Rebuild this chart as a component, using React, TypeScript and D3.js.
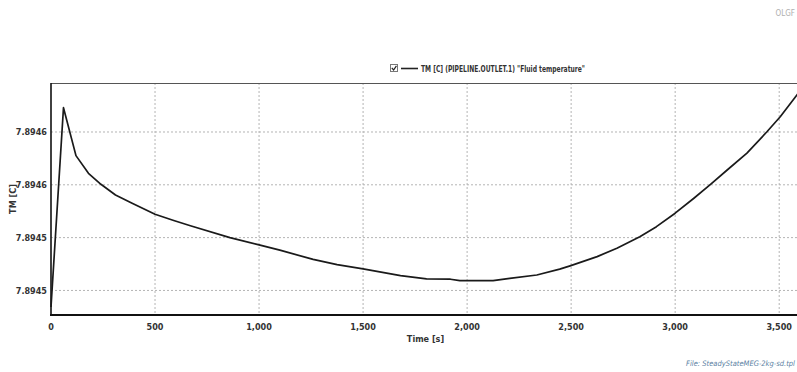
import * as d3 from "d3";

// time [s]
const times = [
  0, 60, 120, 180, 240, 310, 390, 500, 590, 670, 860, 1000, 1100, 1260, 1375,
  1500, 1680, 1805, 1920, 1965, 2125, 2205, 2335, 2445, 2495, 2625, 2720, 2830,
  2910, 3000, 3090, 3170, 3250, 3345, 3440, 3505, 3590,
];

// TM [C] fluid temperature at pipeline outlet
const temps = [
  7.8944675, 7.8946184, 7.8945821, 7.8945687, 7.8945604, 7.8945523, 7.894546,
  7.8945377, 7.894533, 7.894529, 7.89452, 7.8945145, 7.8945105, 7.8945035,
  7.8944995, 7.8944963, 7.8944912, 7.8944887, 7.8944885, 7.8944874, 7.8944874,
  7.8944892, 7.8944917, 7.8944961, 7.8944986, 7.8945056, 7.894512, 7.8945207,
  7.8945283, 7.8945385, 7.8945498, 7.8945603, 7.8945712, 7.894584, 7.8946,
  7.8946115, 7.894629,
];

const xTicks = [0, 500, 1000, 1500, 2000, 2500, 3000, 3500];
const yTicks = [7.89448, 7.89452, 7.89456, 7.8946];

const legendLabel = 'TM [C] (PIPELINE.OUTLET.1) "Fluid temperature"';
const xTitle = "Time [s]";
const yTitle = "TM [C]";
const fileLabel = "File: SteadyStateMEG-2kg-sd.tpl";

const W = 797;
const H = 372;
const left = 51;
const right = 800;
const top = 83;
const bottom = 315;
const font = "'Liberation Sans Narrow', 'DejaVu Sans Condensed', Arial, sans-serif";

export default function App() {
  const x = d3.scaleLinear().domain([0, 3600]).range([left, right]);
  const y = d3.scaleLinear().domain([7.8944614, 7.8946371]).range([bottom, top]);

  const line = d3
    .line<number>()
    .x((_, i) => x(times[i]))
    .y((d) => y(d));

  const fmtX = d3.format(",");

  return (
    <svg
      width={W}
      height={H}
      style={{ position: "absolute", left: 0, top: 0, background: "#fff" }}
      fontFamily={font}
    >
      <rect width={W} height={H} fill="#fff" />
      <text x={795} y={16} textAnchor="end" fontSize={8} fill="#b0b0b0">
        OLGF
      </text>

      {/* legend */}
      <g>
        <rect x={390.5} y={64.5} width={7} height={7} fill="#fff" stroke="#777" />
        <path d="M391.8,67.8 L393.6,70 L396.4,65.8" fill="none" stroke="#222" strokeWidth={1.2} />
        <line x1={401} x2={418} y1={68.5} y2={68.5} stroke="#222" strokeWidth={1.6} />
        <text
          x={421}
          y={71.5}
          fontSize={9}
          fontWeight="bold"
          fill="#333"
          textLength={164}
          lengthAdjust="spacingAndGlyphs"
        >
          {legendLabel}
        </text>
      </g>

      {/* grid */}
      {xTicks
        .filter((t) => t > 0)
        .map((t) => (
          <line
            key={"gx" + t}
            x1={x(t)}
            x2={x(t)}
            y1={top}
            y2={bottom}
            stroke="#b4b4b4"
            strokeDasharray="2,2"
          />
        ))}
      {yTicks.map((t) => (
        <line
          key={"gy" + t}
          x1={left}
          x2={right}
          y1={y(t)}
          y2={y(t)}
          stroke="#b4b4b4"
          strokeDasharray="2,2"
        />
      ))}

      {/* frame */}
      <line x1={left} x2={right} y1={top + 0.5} y2={top + 0.5} stroke="#555" strokeWidth={1} />
      <line x1={left} x2={left} y1={top} y2={bottom} stroke="#111" strokeWidth={1.6} />
      <line x1={left - 1} x2={right} y1={bottom} y2={bottom} stroke="#111" strokeWidth={2} />

      {/* series */}
      <path d={line(temps) ?? ""} fill="none" stroke="#1a1a1a" strokeWidth={1.7} strokeLinejoin="round" />

      {/* x axis labels */}
      {xTicks.map((t) => (
        <text
          key={"tx" + t}
          x={x(t)}
          y={330}
          textAnchor="middle"
          fontSize={9}
          fontWeight="bold"
          fill="#333"
        >
          {fmtX(t)}
        </text>
      ))}
      <text x={(left + right) / 2} y={342} textAnchor="middle" fontSize={9} fontWeight="bold" fill="#333">
        {xTitle}
      </text>

      {/* y axis labels */}
      {yTicks.map((t) => (
        <text
          key={"ty" + t}
          x={47}
          y={y(t) + 3.5}
          textAnchor="end"
          fontSize={9}
          fontWeight="bold"
          fill="#333"
        >
          {t.toFixed(4)}
        </text>
      ))}
      <text
        transform={`translate(16,${(top + bottom) / 2}) rotate(-90)`}
        textAnchor="middle"
        fontSize={9}
        fontWeight="bold"
        fill="#333"
      >
        {yTitle}
      </text>

      <text x={795} y={366} textAnchor="end" fontSize={7.5} fontStyle="italic" fill="#5b7fa3">
        {fileLabel}
      </text>
    </svg>
  );
}
